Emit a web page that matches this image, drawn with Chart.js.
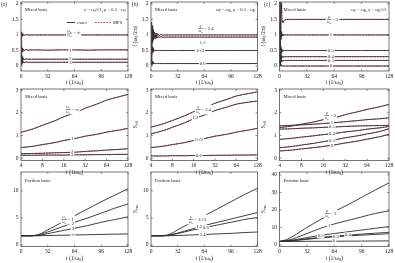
<!DOCTYPE html>
<html>
<head>
<meta charset="utf-8">
<script src="https://cdn.jsdelivr.net/npm/chart.js@4.4.1/dist/chart.umd.min.js"></script>
<style>
  html, body { margin: 0; padding: 0; background: #fff; }
  body { position: relative; width: 395px; height: 263px; overflow: hidden; }
  canvas { position: absolute; }
</style>
</head>
<body>
<canvas id="c11"></canvas><canvas id="c12"></canvas><canvas id="c13"></canvas>
<canvas id="c21"></canvas><canvas id="c22"></canvas><canvas id="c23"></canvas>
<canvas id="c31"></canvas><canvas id="c32"></canvas><canvas id="c33"></canvas>
<script>
// ---------- data ----------
// top row: f (w0/2pi) vs t
const tFa = [0, 0.5, 1, 1.5, 2, 3, 4, 6, 8, 12, 16, 32, 48, 64, 80, 96, 112, 128];
const fA_inf = [0.05, 1.1, 0.94, 1.04, 0.97, 1.02, 0.99, 1.01, 1, 1, 1, 1, 1, 1, 1, 1, 1, 1];
const fA_1 = [0.05, 0.64, 0.44, 0.57, 0.47, 0.54, 0.5, 0.53, 0.51, 0.52, 0.52, 0.51, 0.52, 0.52, 0.51, 0.52, 0.52, 0.52];
const fA_2 = [0.05, 0.36, 0.14, 0.3, 0.19, 0.25, 0.21, 0.23, 0.22, 0.22, 0.22, 0.22, 0.22, 0.22, 0.22, 0.22, 0.22, 0.22];
const fA_3 = [0.05, 0.26, 0.06, 0.19, 0.1, 0.14, 0.11, 0.13, 0.12, 0.12, 0.12, 0.12, 0.12, 0.12, 0.12, 0.12, 0.12, 0.12];

const tFb = [0, 0.5, 1, 1.5, 2, 2.5, 3, 4, 5, 6, 7, 8, 10, 12, 14, 16, 24, 32, 64, 96, 128];
const fB_24 = [0.1, 1.42, 0.72, 1.3, 0.84, 1.17, 0.9, 1.1, 0.94, 1.06, 0.96, 1.04, 0.97, 1.02, 0.99, 1, 1, 1, 1, 1, 1];
const fB_12 = [0.1, 1.25, 0.66, 1.12, 0.78, 1.02, 0.84, 0.98, 0.88, 0.96, 0.9, 0.95, 0.92, 0.94, 0.93, 0.93, 0.93, 0.93, 0.93, 0.93, 0.93];
const fB_r2 = [0.1, 0.82, 0.34, 0.62, 0.44, 0.56, 0.47, 0.52, 0.49, 0.51, 0.5, 0.5, 0.5, 0.5, 0.5, 0.5, 0.5, 0.5, 0.5, 0.5, 0.5];
const fB_06 = [0.1, 0.3, 0.04, 0.16, 0.06, 0.11, 0.07, 0.09, 0.08, 0.08, 0.08, 0.08, 0.08, 0.08, 0.08, 0.08, 0.08, 0.08, 0.08, 0.08, 0.08];

const tFc = [0, 0.5, 1, 1.5, 2, 2.5, 3, 4, 5, 6, 8, 12, 16, 32, 64, 96, 128];
const fC_2 = [0.1, 2.4, 2.4, 2.3, 2.0, 1.7, 1.45, 1.4, 1.45, 1.48, 1.5, 1.5, 1.5, 1.5, 1.5, 1.5, 1.5];
const fC_1 = [0.1, 2.3, 1.5, 0.85, 1.1, 0.95, 1.03, 0.98, 1.01, 1, 1, 1, 1, 1, 1, 1, 1];
const fC_05 = [0.1, 1.3, 0.35, 0.65, 0.42, 0.56, 0.47, 0.52, 0.49, 0.5, 0.5, 0.5, 0.5, 0.5, 0.5, 0.5, 0.5];
const fC_04 = [0.1, 0.9, 0.15, 0.42, 0.24, 0.33, 0.28, 0.31, 0.29, 0.3, 0.3, 0.3, 0.3, 0.3, 0.3, 0.3, 0.3];
const fC_03 = [0.1, 0.6, 0.08, 0.26, 0.14, 0.2, 0.16, 0.18, 0.17, 0.18, 0.18, 0.18, 0.18, 0.18, 0.18, 0.18, 0.18];
const fC_0 = [0, 0.3, 0, 0.06, 0, 0.02, 0, 0, 0, 0, 0, 0, 0, 0, 0, 0, 0];

// middle row: S_eff vs t (log axis)
const tS = [4, 6, 8, 12, 16, 24, 32, 48, 64, 96, 128];
const sA_inf = [1.14, 1.3, 1.45, 1.65, 1.83, 2.02, 2.2, 2.4, 2.56, 2.71, 2.81];
const sA_1 = [0.47, 0.53, 0.6, 0.69, 0.78, 0.88, 0.97, 1.06, 1.15, 1.24, 1.32];
const sA_2 = [0.2, 0.21, 0.22, 0.24, 0.25, 0.27, 0.3, 0.33, 0.36, 0.39, 0.42];
const sA_3 = [0.13, 0.13, 0.14, 0.14, 0.14, 0.15, 0.15, 0.16, 0.16, 0.17, 0.17];
const sB_24 = [1.37, 1.52, 1.66, 1.87, 2.05, 2.25, 2.42, 2.6, 2.74, 2.85, 2.92];
const sB_12 = [1.07, 1.22, 1.36, 1.56, 1.74, 1.93, 2.1, 2.26, 2.38, 2.47, 2.52];
const sB_r2 = [0.47, 0.53, 0.6, 0.69, 0.78, 0.88, 0.97, 1.06, 1.15, 1.24, 1.32];
const sB_06 = [0.1, 0.1, 0.11, 0.11, 0.12, 0.12, 0.13, 0.13, 0.14, 0.14, 0.15];
const sC_2 = [1.35, 1.42, 1.5, 1.6, 1.7, 1.8, 1.92, 2.05, 2.15, 2.27, 2.37];
const sC_1 = [1.43, 1.45, 1.47, 1.5, 1.53, 1.57, 1.61, 1.66, 1.7, 1.74, 1.78];
const sC_05 = [1.28, 1.3, 1.32, 1.34, 1.36, 1.38, 1.4, 1.42, 1.43, 1.44, 1.45];
const sC_04 = [0.83, 0.88, 0.93, 0.99, 1.04, 1.1, 1.16, 1.22, 1.28, 1.34, 1.4];
const sC_03 = [0.46, 0.52, 0.58, 0.66, 0.73, 0.82, 0.9, 0.99, 1.07, 1.18, 1.3];
const sC_0 = [0.32, 0.36, 0.41, 0.47, 0.52, 0.6, 0.67, 0.76, 0.84, 0.95, 1.05];

// bottom row: S_ent vs t
const tE = [0, 8, 16, 24, 32, 48, 64, 80, 96, 112, 128];
const eA_1 = [1.7, 1.7, 1.75, 2.1, 2.8, 4.1, 5.4, 6.7, 8.0, 9.2, 10.4];
const eA_2 = [1.7, 1.7, 1.75, 2.0, 2.4, 3.3, 4.2, 5.0, 5.9, 6.8, 7.6];
const eA_3 = [1.7, 1.7, 1.72, 1.85, 2.1, 2.6, 3.1, 3.6, 4.2, 4.7, 5.2];
const eA_inf = [1.7, 1.7, 1.7, 1.72, 1.75, 1.8, 1.85, 1.9, 1.95, 2.0, 2.05];
const eB_r2 = [1.7, 1.7, 1.75, 2.1, 2.8, 4.1, 5.4, 6.7, 8.0, 9.3, 10.5];
const eB_12 = [1.7, 1.7, 1.72, 1.9, 2.2, 2.9, 3.6, 4.2, 4.8, 5.4, 6.0];
const eB_06 = [1.7, 1.7, 1.72, 1.85, 2.1, 2.7, 3.2, 3.7, 4.2, 4.7, 5.1];
const eB_24 = [1.7, 1.7, 1.7, 1.72, 1.75, 1.85, 1.95, 2.05, 2.15, 2.3, 2.4];
const eC_2 = [2, 3, 5, 7.5, 10, 14.5, 19, 23, 27.2, 31.4, 35.5];
const eC_1 = [2, 2.5, 3.5, 5, 6.5, 9.5, 12, 14, 16, 18, 19.5];
const eC_05 = [2, 2.2, 2.8, 3.5, 4.2, 5.5, 6.5, 7.5, 8.5, 9.5, 10.5];
const eC_04 = [2, 2.1, 2.5, 3, 3.5, 4.3, 5.0, 5.6, 6.2, 6.7, 7.2];
const eC_03 = [2, 2.1, 2.4, 2.8, 3.2, 4.0, 4.6, 5.1, 5.6, 6.0, 6.4];
const eC_0 = [2, 2, 2, 2, 2.05, 2.1, 2.1, 2.15, 2.2, 2.25, 2.3];

// ticks
const fTicks = [0, 0.5, 1, 1.5, 2];
const linTicks = [0, 32, 64, 96, 128];
const logTicks = [4, 8, 16, 32, 64, 128];
const sTicks = [0, 1, 2, 3];
const eTicksAB = [0, 5, 10];
const eTicksC = [0, 10, 20, 30, 40];

// curve labels
const labA = ['∞', '1', '2', '3'];
const labB = ['2.4', '1.2', '1/√2', '0.6'];
const labC = ['2', '1', '0.5', '0.4', '0.3', '0'];
const labA3 = ['1', '2', '3', '∞'];
const labB3 = ['1/√2', '1.2', '0.6', '2.4'];

// ---------- drawing helpers ----------
const SERIF = "'Liberation Serif','DejaVu Serif',serif";
const RED = 'rgb(226,48,92)';
const INK = '#222';

function richW(ctx, segs, size) {
  let w = 0;
  for (const [b, s] of segs) {
    ctx.font = size + 'px ' + SERIF; w += ctx.measureText(b).width;
    if (s) { ctx.font = (size * 0.7) + 'px ' + SERIF; w += ctx.measureText(s).width; }
  }
  return w;
}
function rich(ctx, segs, x, y, size, align) {
  const w = richW(ctx, segs, size);
  let cx = align === 'right' ? x - w : align === 'center' ? x - w / 2 : x;
  ctx.textAlign = 'left';
  ctx.textBaseline = 'middle';
  for (const [b, s] of segs) {
    ctx.font = size + 'px ' + SERIF; ctx.fillText(b, cx, y); cx += ctx.measureText(b).width;
    if (s) {
      ctx.font = (size * 0.7) + 'px ' + SERIF;
      ctx.fillText(s, cx, y + size * 0.3); cx += ctx.measureText(s).width;
    }
  }
  return w;
}
function curveLabel(ctx, px, py, lab) {
  const fs = 4.6;
  if (lab.frac) {
    const [num, den] = lab.frac;
    const fz = 3.8;
    const fw = Math.max(richW(ctx, num, fz), richW(ctx, den, fz)) + 0.6;
    const rest = [[' = ' + lab.text]];
    const w = fw + richW(ctx, rest, fs);
    const x0 = px - w / 2;
    ctx.fillStyle = '#fff'; ctx.fillRect(x0 - 1, py - 5, w + 2, 10);
    ctx.fillStyle = INK;
    rich(ctx, num, x0 + fw / 2, py - 2.3, fz, 'center');
    rich(ctx, den, x0 + fw / 2, py + 2.4, fz, 'center');
    ctx.fillRect(x0, py - 0.25, fw, 0.5);
    rich(ctx, rest, x0 + fw, py, fs, 'left');
  } else {
    const segs = [[lab.text]];
    const w = richW(ctx, segs, fs);
    ctx.fillStyle = '#fff'; ctx.fillRect(px - w / 2 - 0.8, py - 2.5, w + 1.6, 5);
    ctx.fillStyle = INK; rich(ctx, segs, px, py, fs, 'center');
  }
}

const decoPlugin = {
  id: 'deco',
  afterDraw(chart, _args, o) {
    const { ctx, chartArea: a, scales: { x, y } } = chart;
    ctx.save();
    ctx.beginPath(); ctx.rect(a.left, a.top, a.right - a.left, a.bottom - a.top); ctx.clip();
    for (const lab of o.labels) curveLabel(ctx, x.getPixelForValue(lab.t), y.getPixelForValue(lab.v), lab);
    ctx.restore();

    ctx.save();
    // inner ticks on all four sides
    ctx.strokeStyle = '#444'; ctx.lineWidth = 0.6;
    ctx.beginPath();
    for (const tk of x.ticks) {
      const px = x.getPixelForValue(tk.value);
      ctx.moveTo(px, a.bottom); ctx.lineTo(px, a.bottom - 2);
      ctx.moveTo(px, a.top); ctx.lineTo(px, a.top + 2);
    }
    for (const tk of y.ticks) {
      const py = y.getPixelForValue(tk.value);
      ctx.moveTo(a.left, py); ctx.lineTo(a.left + 2, py);
      ctx.moveTo(a.right, py); ctx.lineTo(a.right - 2, py);
    }
    ctx.stroke();
    ctx.strokeStyle = '#555'; ctx.lineWidth = 0.8;
    ctx.strokeRect(a.left, a.top, a.right - a.left, a.bottom - a.top);

    ctx.fillStyle = INK;
    for (const n of o.notes) {
      const right = n.pos === 'right';
      rich(ctx, n.segs, right ? a.right - 2.5 : a.left + 4, a.top + n.dy, 4.6, right ? 'right' : 'left');
    }
    if (o.legend) {
      const ly = a.top + 20.5;
      ctx.strokeStyle = INK; ctx.lineWidth = 0.9;
      ctx.beginPath(); ctx.moveTo(a.left + 46, ly); ctx.lineTo(a.left + 54, ly); ctx.stroke();
      rich(ctx, [['exact']], a.left + 56, ly, 4.6, 'left');
      ctx.strokeStyle = RED; ctx.lineWidth = 1; ctx.setLineDash([1.6, 1.2]);
      ctx.beginPath(); ctx.moveTo(a.left + 74, ly); ctx.lineTo(a.left + 90, ly); ctx.stroke();
      ctx.setLineDash([]);
      rich(ctx, [['MPS']], a.left + 92, ly, 4.6, 'left');
    }
    if (o.letter) rich(ctx, [[o.letter]], a.left + o.ldx, a.top + 3, 5.4, 'center');
    rich(ctx, [['t (1/ω', '0'], [')']], (a.left + a.right) / 2, a.bottom + 11.5, 5.8, 'center');
    if (o.ytitle) {
      ctx.translate(a.left - 16, (a.top + a.bottom) / 2);
      ctx.rotate(-Math.PI / 2);
      rich(ctx, o.ytitle, 0, 0, 5.8, 'center');
    }
    ctx.restore();
  }
};

// ---------- layout ----------
const cols = [
  { left: 0, w: 134, yW: 21, padR: 6 },
  { left: 130, w: 134, yW: 21, padR: 6.5 },
  { left: 261, w: 134, yW: 18.5, padR: 6 }
];
const rows = [
  { top: 0, h: 88, padT: 2, xH: 17 },
  { top: 85, h: 91, padT: 4, xH: 15.5 },
  { top: 168, h: 95, padT: 4, xH: 16.5 }
];

function axis(type, min, max, ticks, isX, size) {
  return {
    type, min, max,
    afterBuildTicks: s => { s.ticks = ticks.map(v => ({ value: v })); },
    ticks: {
      font: { family: SERIF, size: 5.5 }, color: INK, padding: isX ? 2 : 2.5,
      autoSkip: false, maxRotation: 0, callback: v => String(v)
    },
    grid: { display: false, drawTicks: false },
    border: { display: false },
    afterFit: s => {
      if (isX) { s.height = size; s.paddingLeft = 0; s.paddingRight = 0; }
      else { s.width = size; s.paddingTop = 0; s.paddingBottom = 0; }
    }
  };
}

function lines(ts, arrs, mps, smooth) {
  const pts = v => ts.map((t, i) => ({ x: t, y: v[i] }));
  const base = { pointRadius: 0, borderWidth: 0.9, tension: 0 };
  if (smooth) base.cubicInterpolationMode = 'monotone';
  const ds = arrs.map(v => ({ ...base, data: pts(v), borderColor: mps ? '#333' : '#2b2b2b' }));
  if (mps) arrs.forEach(v => ds.push({ ...base, borderWidth: 1, data: pts(v), borderColor: RED, borderDash: [1.6, 1.2] }));
  return ds;
}

function panel(id, col, row, xs, ys, datasets, deco) {
  const C = cols[col], R = rows[row];
  const cv = document.getElementById(id);
  cv.width = C.w; cv.height = R.h;
  cv.style.left = C.left + 'px'; cv.style.top = R.top + 'px';
  new Chart(cv, {
    type: 'line',
    data: { datasets },
    options: {
      responsive: false, animation: false, events: [],
      layout: { padding: { left: 0, top: R.padT, right: C.padR, bottom: 0 } },
      plugins: { legend: { display: false }, tooltip: { enabled: false }, deco },
      scales: {
        x: axis(xs.type, xs.min, xs.max, xs.ticks, true, R.xH),
        y: axis('linear', ys.min, ys.max, ys.ticks, false, C.yW)
      }
    },
    plugins: [decoPlugin]
  });
}

const W = (s) => [['ω', s]];
const mixed = { segs: [['Mixed basis']], pos: 'left', dy: 8 };
const position = { segs: [['Position basis']], pos: 'left', dy: 9 };
const fTitle = [['f (ω', '0'], ['/2π)']];
const sEff = [['S', 'eff']];
const sEnt = [['S', 'ent']];
const fracA = [W('F'), W('B')];
const fracB = [[['γ']], W('0')];
const fracC = [[['μ']], W('0')];

const xLin = { type: 'linear', min: 0, max: 128, ticks: linTicks };
const xLog = { type: 'logarithmic', min: 4, max: 128, ticks: logTicks };
const yF = { min: -0.16, max: 2.06, ticks: fTicks };
const yS = { min: -0.1, max: 3.05, ticks: sTicks };
const yE = { min: -0.28, max: 13.5, ticks: eTicksAB };
const yEc = { min: -0.9, max: 41.7, ticks: eTicksC };

// top row
panel('c11', 0, 0, xLin, yF, lines(tFa, [fA_inf, fA_1, fA_2, fA_3], true, false), {
  letter: '(a)', ldx: -17, ytitle: null, legend: true,
  notes: [mixed, { segs: [['γ = ω', '0'], ['/√2, μ = 0.5 · ω', '0']], pos: 'right', dy: 8 }],
  labels: [
    { t: 63, v: 1.06, frac: fracA, text: labA[0] },
    { t: 59, v: 0.5, text: labA[1] },
    { t: 59, v: 0.23, text: labA[2] },
    { t: 59, v: 0.11, text: labA[3] }
  ]
});
panel('c12', 1, 0, xLin, yF, lines(tFb, [fB_24, fB_12, fB_r2, fB_06], true, false), {
  letter: '(b)', ldx: -16, ytitle: fTitle, legend: false,
  notes: [mixed, { segs: [['ω', 'F'], [' = ω', 'B'], [', μ = 0.5 · ω', 'B']], pos: 'right', dy: 8 }],
  labels: [
    { t: 66, v: 1.2, frac: fracB, text: labB[0] },
    { t: 62, v: 0.76, text: labB[1] },
    { t: 59, v: 0.5, text: labB[2] },
    { t: 62, v: 0.07, text: labB[3] }
  ]
});
panel('c13', 2, 0, xLin, yF, lines(tFc, [fC_2, fC_1, fC_05, fC_04, fC_03, fC_0], true, false), {
  letter: '(c)', ldx: -12.5, ytitle: fTitle, legend: false,
  notes: [mixed, { segs: [['ω', 'F'], [' = ω', 'B'], [', γ = ω', 'B'], ['/√2']], pos: 'right', dy: 8 }],
  labels: [
    { t: 62, v: 1.5, frac: fracC, text: labC[0] },
    { t: 60, v: 1.0, text: labC[1] },
    { t: 60, v: 0.5, text: labC[2] },
    { t: 60, v: 0.3, text: labC[3] },
    { t: 60, v: 0.18, text: labC[4] },
    { t: 60, v: 0.02, text: labC[5] }
  ]
});

// middle row
panel('c21', 0, 1, xLog, yS, lines(tS, [sA_inf, sA_1, sA_2, sA_3], true, true), {
  ytitle: null, legend: false, notes: [mixed],
  labels: [
    { t: 21, v: 2.15, frac: fracA, text: labA[0] },
    { t: 21, v: 0.86, text: labA[1] },
    { t: 21, v: 0.27, text: labA[2] },
    { t: 21, v: 0.13, text: labA[3] }
  ]
});
panel('c22', 1, 1, xLog, yS, lines(tS, [sB_24, sB_12, sB_r2, sB_06], true, true), {
  ytitle: sEff, legend: false, notes: [mixed],
  labels: [
    { t: 22, v: 2.15, frac: fracB, text: labB[0] },
    { t: 17, v: 1.78, text: labB[1] },
    { t: 19, v: 0.83, text: labB[2] },
    { t: 19, v: 0.12, text: labB[3] }
  ]
});
panel('c23', 2, 1, xLog, yS, lines(tS, [sC_2, sC_1, sC_05, sC_04, sC_03, sC_0], true, true), {
  ytitle: sEff, legend: false, notes: [mixed],
  labels: [
    { t: 20, v: 1.88, frac: fracC, text: labC[0] },
    { t: 21, v: 1.55, text: labC[1] },
    { t: 21, v: 1.37, text: labC[2] },
    { t: 21, v: 1.07, text: labC[3] },
    { t: 21, v: 0.78, text: labC[4] },
    { t: 21, v: 0.56, text: labC[5] }
  ]
});

// bottom row
panel('c31', 0, 2, xLin, yE, lines(tE, [eA_1, eA_2, eA_3, eA_inf], false, true), {
  ytitle: null, legend: false, notes: [position],
  labels: [
    { t: 56, v: 4.7, frac: fracA, text: labA3[0] },
    { t: 62, v: 4.0, text: labA3[1] },
    { t: 62, v: 3.0, text: labA3[2] },
    { t: 62, v: 1.85, text: labA3[3] }
  ]
});
panel('c32', 1, 2, xLin, yE, lines(tE, [eB_r2, eB_12, eB_06, eB_24], false, true), {
  ytitle: sEnt, legend: false, notes: [position],
  labels: [
    { t: 56, v: 4.7, frac: fracB, text: labB3[0] },
    { t: 58, v: 3.4, text: labB3[1] },
    { t: 66, v: 3.2, text: labB3[2] },
    { t: 62, v: 1.9, text: labB3[3] }
  ]
});
panel('c33', 2, 2, xLin, yEc, lines(tE, [eC_2, eC_1, eC_05, eC_04, eC_03, eC_0], false, true), {
  ytitle: sEnt, legend: false, notes: [position],
  labels: [
    { t: 60, v: 18, frac: fracC, text: labC[0] },
    { t: 58, v: 11, text: labC[1] },
    { t: 48, v: 5.3, text: labC[2] },
    { t: 80, v: 5.6, text: labC[3] },
    { t: 66, v: 4.7, text: labC[4] },
    { t: 64, v: 2.1, text: labC[5] }
  ]
});
</script>
</body>
</html>
